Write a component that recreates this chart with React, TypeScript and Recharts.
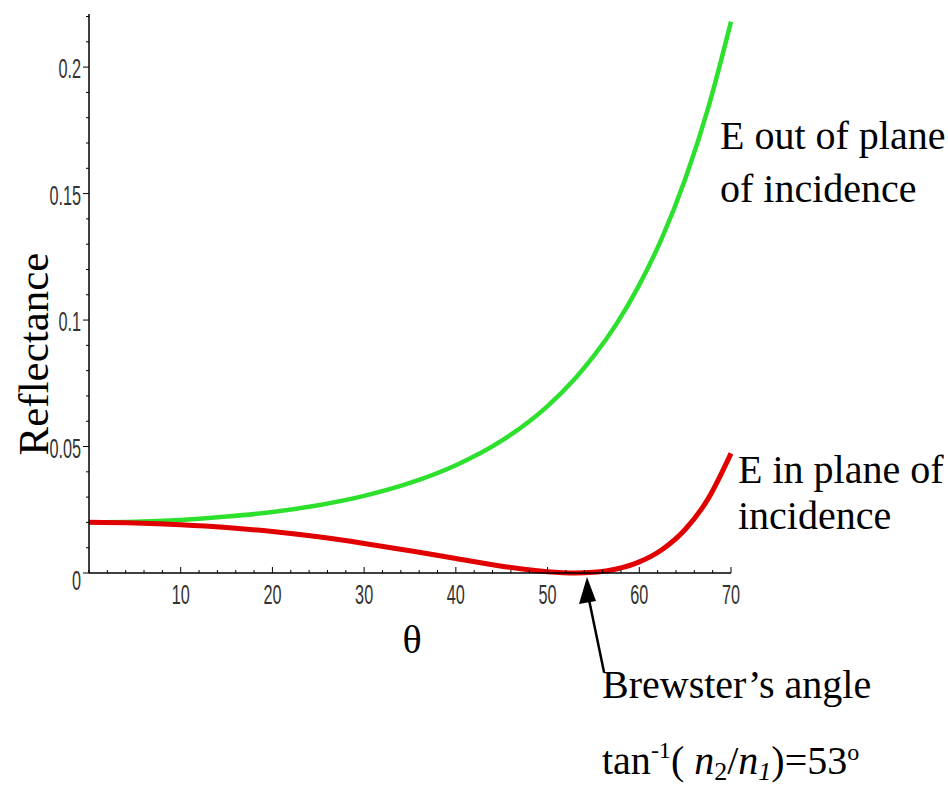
import React from "react";
import { LineChart, Line, XAxis, YAxis } from "recharts";

// angle of incidence (degrees) and reflectance
const theta = [0, 5, 10, 15, 20, 25, 30, 35, 40, 45, 50, 53, 55, 57.5, 60, 62.5, 65, 67.5, 70];
const rOutOfPlane = [
  0.0201, 0.0203, 0.021, 0.0223, 0.0241, 0.0268, 0.0305, 0.0356, 0.0426, 0.0523, 0.066, 0.0769,
  0.0856, 0.0984, 0.1139, 0.1327, 0.1557, 0.1837, 0.218,
];
const rInPlane = [
  0.0201, 0.0198, 0.0191, 0.018, 0.0164, 0.0143, 0.0117, 0.0088, 0.0057, 0.0027, 0.0005, 0.0,
  0.0003, 0.0016, 0.0044, 0.0093, 0.0172, 0.0293, 0.0473,
];

const xTicks = [0, 2, 4, 6, 8, 10, 12, 14, 16, 18, 20, 22, 24, 26, 28, 30, 32, 34, 36, 38, 40, 42, 44, 46, 48, 50, 52, 54, 56, 58, 60, 62, 64, 66, 68, 70];
const xLabels = [10, 20, 30, 40, 50, 60, 70];
const yTicks = [0, 0.01, 0.02, 0.03, 0.04, 0.05, 0.06, 0.07, 0.08, 0.09, 0.1, 0.11, 0.12, 0.13, 0.14, 0.15, 0.16, 0.17, 0.18, 0.19, 0.2, 0.21, 0.22];
const yLabels = ["0", "0.05", "0.1", "0.15", "0.2"];

const data = theta.map((t, i) => ({ theta: t, out: rOutOfPlane[i], inp: rInPlane[i] }));

const TICK_FONT = "'Liberation Sans', Arial, sans-serif";
const SERIF = "'Liberation Serif', 'Times New Roman', serif";

// narrow tick text, squeezed horizontally like the original plot
function NarrowText({ x, y, anchor, children }: any) {
  return (
    <text
      transform={`translate(${x} ${y}) scale(0.58 1)`}
      textAnchor={anchor}
      fontFamily={TICK_FONT}
      fontSize={28}
      fill="#333"
    >
      {children}
    </text>
  );
}

function XTick(props: any) {
  const { x, y, payload } = props;
  const major = xLabels.includes(payload.value);
  return (
    <g>
      <line x1={x} x2={x} y1={y} y2={y - (major ? 6 : 3)} stroke="#000" strokeWidth={1} />
      {major && (
        <NarrowText x={x} y={y + 31} anchor="middle">
          {payload.value}
        </NarrowText>
      )}
    </g>
  );
}

function YTick(props: any) {
  const { x, y, payload } = props;
  const label = yLabels.find((l) => Math.abs(parseFloat(l) - payload.value) < 1e-6);
  return (
    <g>
      <line x1={x - (label ? 6 : 3)} x2={x} y1={y} y2={y} stroke="#000" strokeWidth={1} />
      {label && (
        <NarrowText x={x - 8} y={y + (label === "0" ? 17 : 11)} anchor="end">
          {label}
        </NarrowText>
      )}
    </g>
  );
}

export default function App() {
  return (
    <div style={{ position: "absolute", left: 0, top: 0, width: 948, height: 791, background: "#fff" }}>
      <LineChart width={948} height={791} data={data} margin={{ top: 14, right: 217, bottom: 178, left: 9 }}>
        <XAxis
          dataKey="theta"
          type="number"
          domain={[0, 70]}
          ticks={xTicks}
          interval={0}
          height={40}
          tickSize={0}
          tickMargin={0}
          tick={<XTick />}
          axisLine={{ stroke: "#000", strokeWidth: 1.5 }}
        />
        <YAxis
          type="number"
          domain={[0, 0.221]}
          ticks={yTicks}
          interval={0}
          width={80}
          tickSize={0}
          tickMargin={0}
          tick={<YTick />}
          axisLine={{ stroke: "#000", strokeWidth: 1.5 }}
        />
        <Line type="monotone" dataKey="out" stroke="#2ee02e" strokeWidth={4.5} dot={false} isAnimationActive={false} />
        <Line type="monotone" dataKey="inp" stroke="#e00000" strokeWidth={5} dot={false} isAnimationActive={false} />
      </LineChart>

      {/* labels and annotations */}
      <svg width={948} height={791} style={{ position: "absolute", left: 0, top: 0, pointerEvents: "none" }}>
        <text
          x={48}
          y={354}
          transform="rotate(-90 48 354)"
          textAnchor="middle"
          fontFamily={SERIF}
          fontSize={43}
          fill="#000"
        >
          Reflectance
        </text>
        <text x={412} y={653} textAnchor="middle" fontFamily={SERIF} fontSize={40} fill="#000">
          θ
        </text>
        <g fontFamily={SERIF} fontSize={40} fill="#000">
          <text x={720} y={149}>E out of plane</text>
          <text x={720} y={202}>of incidence</text>
          <text x={738} y={483}>E in plane of</text>
          <text x={738} y={529}>incidence</text>
          <text x={602} y={698}>Brewster’s angle</text>
          <text x={602} y={774}>
            tan
            <tspan fontSize={24} dy={-16}>-1</tspan>
            <tspan dy={16}>( </tspan>
            <tspan fontStyle="italic">n</tspan>
            <tspan fontSize={26} dy={6}>2</tspan>
            <tspan dy={-6}>/</tspan>
            <tspan fontStyle="italic">n</tspan>
            <tspan fontSize={26} fontStyle="italic" dy={6}>1</tspan>
            <tspan dy={-6}>)=53</tspan>
            <tspan fontSize={24} dy={-14}>o</tspan>
          </text>
        </g>
        <line x1={604} y1={672} x2={587} y2={590} stroke="#000" strokeWidth={2.5} />
        <path d="M587,577 L579,604 L596,601 z" fill="#000" />
      </svg>
    </div>
  );
}
